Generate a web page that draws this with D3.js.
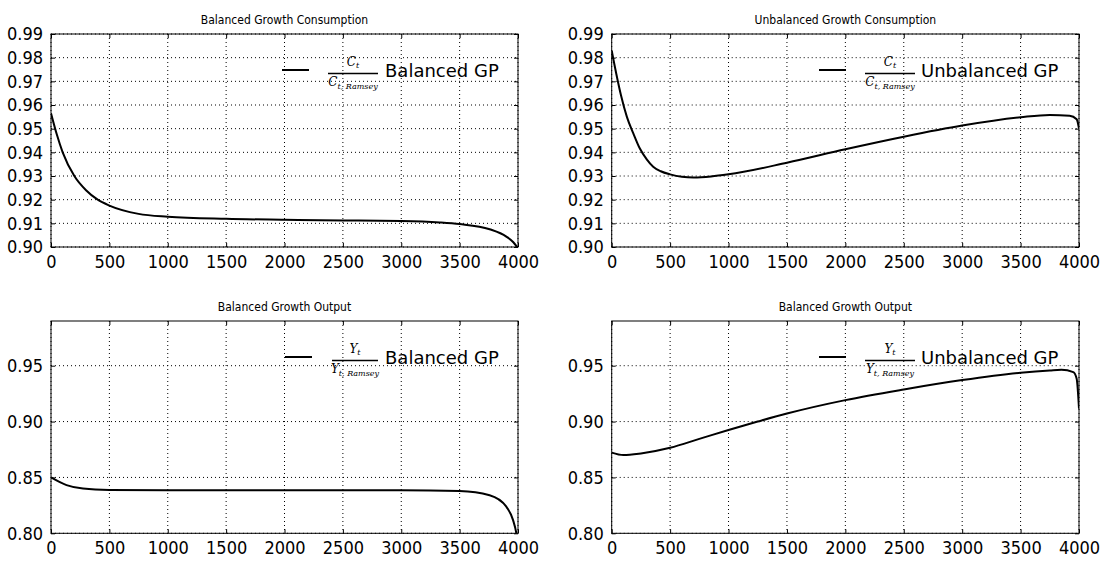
<!DOCTYPE html>
<html><head><meta charset="utf-8">
<script src="https://cdn.jsdelivr.net/npm/d3@7"></script>
<style>
body{margin:0;background:#fff;}
svg text{font-family:"DejaVu Sans Condensed","DejaVu Sans",sans-serif;font-stretch:condensed;}
.math{font-family:"DejaVu Serif","Liberation Serif",serif !important;font-style:italic;font-stretch:normal !important;}
.leg{font-family:"DejaVu Sans",sans-serif !important;font-stretch:normal !important;}
</style></head>
<body>
<svg id="c" width="1105" height="562"></svg>
<script>
// ---- data ----
const tlT = [0,50,100,200,300,400,500,750,1000,1500,2000,2500,3000,3330,3500,3757,3900,3960,4000];
const tlV = [0.9565,0.9475,0.940,0.930,0.924,0.920,0.9175,0.914,0.9128,0.9119,0.9115,0.9112,0.911,0.9104,0.9097,0.9075,0.9044,0.902,0.8995];
const trT = [0,40,80,130,185,240,300,355,420,500,600,700,850,1000,1500,2000,2500,3000,3500,3750,3920,3980,4000];
const trV = [0.983,0.973,0.964,0.955,0.948,0.9417,0.937,0.9339,0.932,0.9307,0.9297,0.9294,0.9298,0.9307,0.9356,0.9413,0.9466,0.9513,0.9548,0.9558,0.9555,0.954,0.950];
const blT = [0,133,274,500,1000,2000,3000,3500,3757,3900,3957,3986,4000];
const blV = [0.85,0.8431,0.840,0.8388,0.8385,0.8385,0.8385,0.8378,0.834,0.8238,0.812,0.800,0.79];
const brT = [0,100,250,500,750,1000,1250,1500,2000,2500,3000,3500,3750,3850,3951,3980,4000];
const brV = [0.8722,0.870,0.8715,0.8766,0.8845,0.8925,0.900,0.9072,0.9192,0.9287,0.9371,0.9437,0.9458,0.9464,0.9443,0.9384,0.9116];

const xTicks = [0,500,1000,1500,2000,2500,3000,3500,4000];
const yTicksTop = [0.90,0.91,0.92,0.93,0.94,0.95,0.96,0.97,0.98,0.99];
const yTicksBot = [0.80,0.85,0.90,0.95];

const titles = ["Balanced Growth Consumption","Unbalanced Growth Consumption","Balanced Growth Output","Balanced Growth Output"];
const legendLabels = ["Balanced GP","Unbalanced GP","Balanced GP","Unbalanced GP"];
const legendVar = ["C","C","Y","Y"];

const panels = [
  {t:tlT,v:tlV,x0:51,x1:518,y0:34,y1:247,dom:[0.90,0.99],ticks:yTicksTop},
  {t:trT,v:trV,x0:611.7,x1:1079,y0:34,y1:247,dom:[0.90,0.99],ticks:yTicksTop},
  {t:blT,v:blV,x0:51,x1:518,y0:321,y1:533.3,dom:[0.80,0.99],ticks:yTicksBot},
  {t:brT,v:brV,x0:611.7,x1:1079,y0:321,y1:533.3,dom:[0.80,0.99],ticks:yTicksBot}
];
const legOff = [
  {line:[-236,-209],bar:[-190,-140],text:-133},
  {line:[-260,-233],bar:[-214,-164],text:-158},
  {line:[-233,-206],bar:[-186,-140],text:-133},
  {line:[-260,-233],bar:[-214,-164],text:-158}
];

const svg = d3.select("#c");
panels.forEach((p,i)=>{
  const x = d3.scaleLinear().domain([0,4000]).range([p.x0,p.x1]);
  const y = d3.scaleLinear().domain(p.dom).range([p.y1,p.y0]);
  const g = svg.append("g");
  const cid = "clip"+i;
  g.append("clipPath").attr("id",cid).append("rect")
    .attr("x",p.x0).attr("y",p.y0).attr("width",p.x1-p.x0).attr("height",p.y1-p.y0);
  g.selectAll(".gx").data(xTicks).enter().append("line")
    .attr("x1",d=>x(d)).attr("x2",d=>x(d)).attr("y1",p.y0).attr("y2",p.y1)
    .attr("stroke","#000").attr("stroke-width",1).attr("stroke-dasharray","1,3");
  g.selectAll(".gy").data(p.ticks).enter().append("line")
    .attr("x1",p.x0).attr("x2",p.x1).attr("y1",d=>y(d)).attr("y2",d=>y(d))
    .attr("stroke","#000").attr("stroke-width",1).attr("stroke-dasharray","1,3");
  const axB = d3.axisBottom(x).tickValues(xTicks).tickSize(-4).tickPadding(8).tickFormat(d3.format("d"));
  const axT = d3.axisTop(x).tickValues(xTicks).tickSize(-4).tickFormat("");
  const axL = d3.axisLeft(y).tickValues(p.ticks).tickSize(-4).tickPadding(8).tickFormat(d3.format(".2f"));
  const axR = d3.axisRight(y).tickValues(p.ticks).tickSize(-4).tickFormat("");
  [[axB,`translate(0,${p.y1})`],[axT,`translate(0,${p.y0})`],[axL,`translate(${p.x0},0)`],[axR,`translate(${p.x1},0)`]].forEach(([a,tr])=>{
    const ag = g.append("g").attr("transform",tr).call(a);
    ag.select(".domain").remove();
    ag.selectAll("line").attr("stroke","#000");
    ag.selectAll("text").attr("fill","#000").style("font-size","18px");
  });
  const line = d3.line().x((d,k)=>x(p.t[k])).y(d=>y(d)).curve(d3.curveMonotoneX);
  g.append("path").datum(p.v).attr("d",line).attr("clip-path",`url(#${cid})`)
    .attr("fill","none").attr("stroke","#000").attr("stroke-width",2);
  g.append("rect").attr("x",p.x0).attr("y",p.y0).attr("width",p.x1-p.x0).attr("height",p.y1-p.y0)
    .attr("fill","none").attr("stroke","#000").attr("stroke-width",1);
  g.append("text").attr("x",(p.x0+p.x1)/2).attr("y",p.y0-10).attr("text-anchor","middle")
    .style("font-size","12px").text(titles[i]);
  const L = legOff[i];
  g.append("line").attr("x1",p.x1+L.line[0]).attr("x2",p.x1+L.line[1]).attr("y1",p.y0+36).attr("y2",p.y0+36)
    .attr("stroke","#000").attr("stroke-width",2);
  g.append("line").attr("x1",p.x1+L.bar[0]).attr("x2",p.x1+L.bar[1]).attr("y1",p.y0+39.5).attr("y2",p.y0+39.5)
    .attr("stroke","#000").attr("stroke-width",1.3);
  const cx = p.x1+(L.bar[0]+L.bar[1])/2;
  const num = g.append("text").attr("class","math").attr("x",cx).attr("y",p.y0+32).attr("text-anchor","middle")
    .style("font-size","12px");
  num.append("tspan").text(legendVar[i]);
  num.append("tspan").attr("dy",2).style("font-size","8px").text("t");
  const den = g.append("text").attr("class","math").attr("x",cx).attr("y",p.y0+52).attr("text-anchor","middle")
    .style("font-size","12px");
  den.append("tspan").text(legendVar[i]);
  den.append("tspan").attr("dy",2.5).style("font-size","8px").text("t, Ramsey");
  g.append("text").attr("class","leg").attr("x",p.x1+L.text).attr("y",p.y0+43).style("font-size","18px").text(legendLabels[i]);
});
</script>
</body></html>
